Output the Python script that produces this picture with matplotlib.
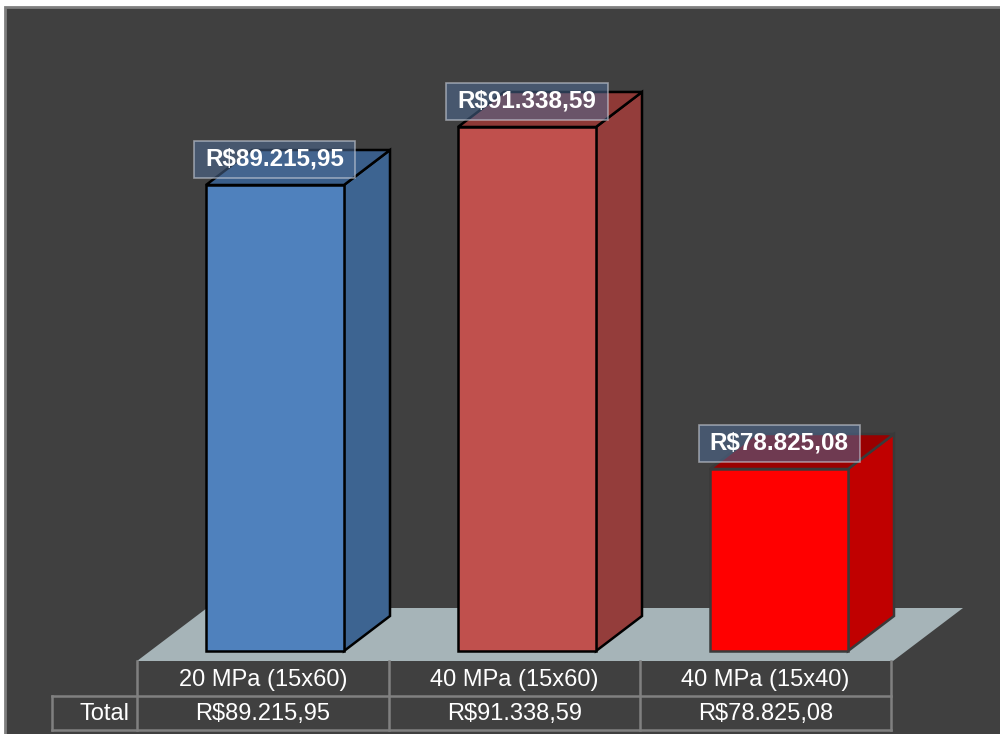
import matplotlib
matplotlib.use("Agg")
import matplotlib.pyplot as plt
from matplotlib.patches import Polygon, Rectangle
from matplotlib.lines import Line2D

plt.rcParams['font.family'] = ['Liberation Sans', 'DejaVu Sans']

# DATA
categories = ["20 MPa (15x60)", "40 MPa (15x60)", "40 MPa (15x40)"]
values = [89215.95, 91338.59, 78825.08]
labels = ["R$89.215,95", "R$91.338,59", "R$78.825,08"]
row_name = "Total"

# STYLE
front_cols = ["#4F81BD", "#C0504D", "#FF0000"]
side_cols = ["#3D6491", "#943D3B", "#C00000"]
top_cols = ["#3A5E8A", "#8E3936", "#9A0000"]
edge_cols = ["#000000", "#000000", "#3A3A3A"]
bg = "#404040"

W, H = 1000, 734
fig = plt.figure(figsize=(W / 100, H / 100), dpi=100)
fig.patch.set_facecolor("white")

# pixel scales of the value axis
XPX = 252.0           # px per category
VPX = 0.02733         # px per R$
BASE = 72165.0        # value axis minimum
base_px = 651         # pixel row of the axis minimum
x0_px = 275           # pixel column of first category

ax = fig.add_axes([0, 0, 1, 1])
ax.set_xlim(-x0_px / XPX, (W - x0_px) / XPX)
ax.set_ylim(BASE - (H - base_px) / VPX, BASE + base_px / VPX)
ax.axis("off")

def fy(px):
    # pixel row -> figure fraction
    return 1 - px / H

def fx(px):
    return px / W

# background with grey border
fig.patches.append(Rectangle((fx(5), fy(H + 5)), 1.1, fy(7) - fy(H + 5),
                             transform=fig.transFigure, facecolor=bg,
                             edgecolor="#7F7F7F", linewidth=2, zorder=-5))

# 3D depth offsets in data units
DX = 46 / XPX
DY = 35 / VPX
bw = 138 / XPX

# floor
fl_x0 = -0.5 - 12 / XPX
fl_x1 = 2.5 - 12 / XPX
fl_v = BASE - 10 / VPX
fl_dx = 70 / XPX
fl_dy = 53 / VPX
ax.add_patch(Polygon([(fl_x0, fl_v), (fl_x1, fl_v), (fl_x1 + fl_dx, fl_v + fl_dy),
                      (fl_x0 + fl_dx, fl_v + fl_dy)], closed=True,
                     facecolor="#A6B4B8", edgecolor="none", zorder=1))

# label box size
box_w = 161 / XPX
box_h = 37 / VPX

# bars
for i, v in enumerate(values):
    l, r = i - bw / 2, i + bw / 2
    ax.bar(i, v - BASE, bottom=BASE, width=bw, color=front_cols[i],
           edgecolor=edge_cols[i], linewidth=1.8, zorder=3)
    ax.add_patch(Polygon([(r, BASE), (r + DX, BASE + DY), (r + DX, v + DY), (r, v)],
                         closed=True, facecolor=side_cols[i], edgecolor=edge_cols[i],
                         linewidth=1.8, zorder=2))
    ax.add_patch(Polygon([(l, v), (r, v), (r + DX, v + DY), (l + DX, v + DY)],
                         closed=True, facecolor=top_cols[i], edgecolor=edge_cols[i],
                         linewidth=1.8, zorder=2))
    ly = v + 25.5 / VPX
    ax.add_patch(Rectangle((i - box_w / 2, ly - box_h / 2), box_w, box_h,
                           facecolor=(0.30, 0.42, 0.58, 0.55),
                           edgecolor=(0.8, 0.82, 0.86, 0.6), linewidth=1.2, zorder=4))
    ax.text(i, ly, labels[i], ha="center", va="center", color="white",
            fontsize=17.5, fontweight="bold", zorder=5)

# data table under the floor
col_edges = [137, 389, 640, 891]
r0, r1, r2 = 661, 696, 730
lc = "#808080"
tlines = []
for xe in col_edges:
    tlines.append(([xe, xe], [r0, r2]))
tlines.append(([52, col_edges[-1]], [r1, r1]))
tlines.append(([52, col_edges[-1]], [r2, r2]))
tlines.append(([52, 52], [r1, r2]))
for xs, ys in tlines:
    fig.lines.append(Line2D([fx(p) for p in xs], [fy(p) for p in ys],
                            transform=fig.transFigure, color=lc, linewidth=1.8, zorder=4))

for i, (c, lab) in enumerate(zip(categories, labels)):
    cx = fx((col_edges[i] + col_edges[i + 1]) / 2)
    fig.text(cx, fy(680), c, ha="center", va="center", color="white", fontsize=17)
    fig.text(cx, fy(714), lab, ha="center", va="center", color="white", fontsize=17)
fig.text(fx(130), fy(714), row_name, ha="right", va="center", color="white", fontsize=17)

fig.savefig("out.png", dpi=100, facecolor=fig.get_facecolor())
